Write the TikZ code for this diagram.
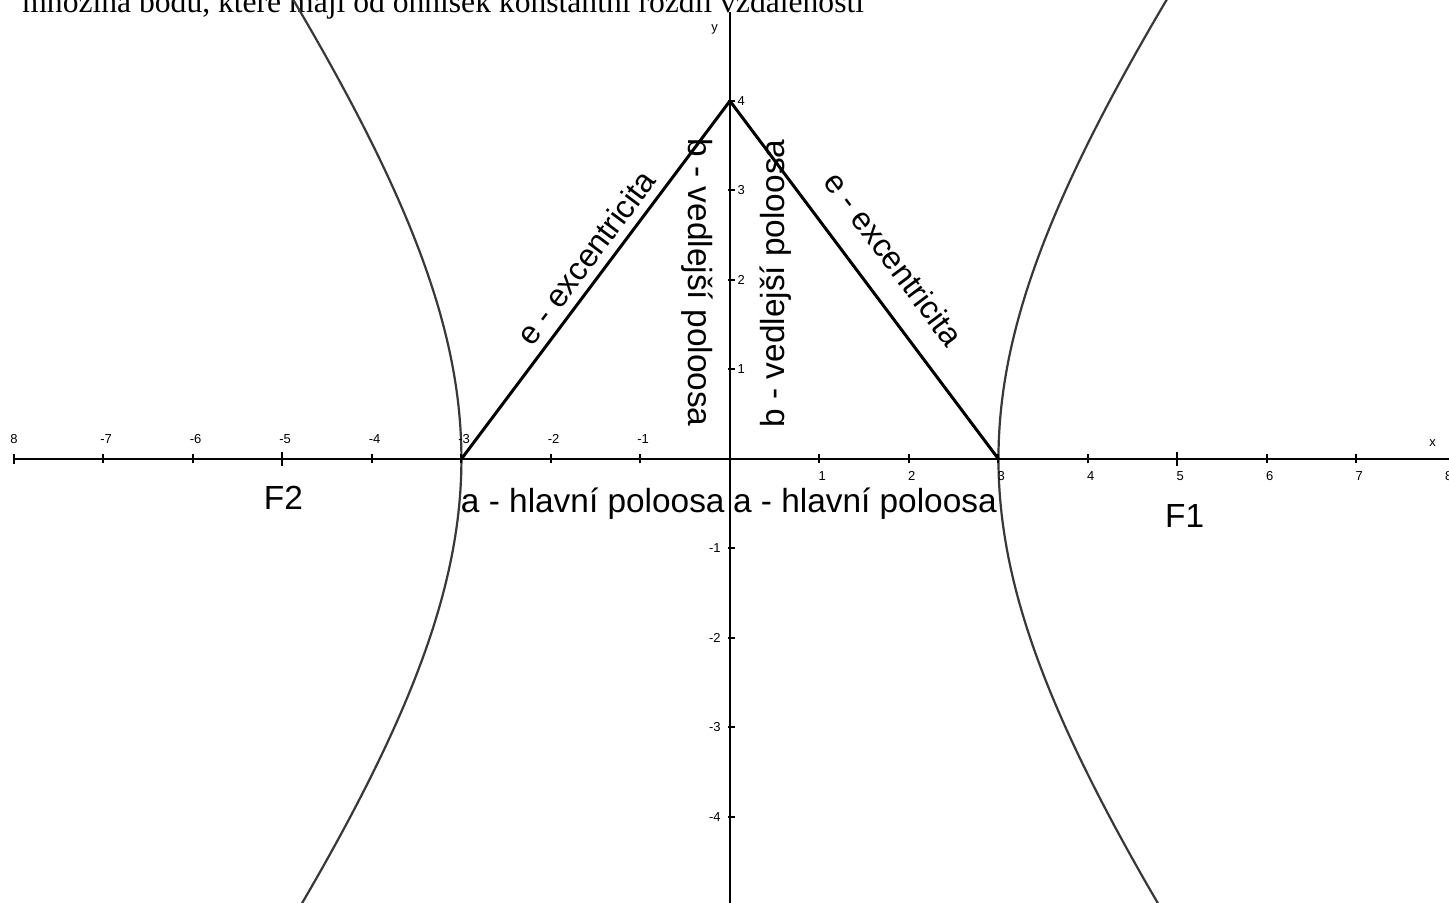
\documentclass[tikz,border=0pt]{standalone}
\usepackage{fontspec}
\setmainfont{Liberation Serif}
\setsansfont{Liberation Sans}
\begin{document}
\begin{tikzpicture}[x=44.75pt,y=44.75pt,
  axis/.style={line width=1.25pt,black},
  tick/.style={line width=1pt,black},
  ticklbl/.style={font=\sffamily\fontsize{6.5pt}{7pt}\selectfont,inner sep=0pt},
  curve/.style={line width=1.1pt,color=black!78},
  seg/.style={line width=1.5pt,black,line join=round},
  biglbl/.style={font=\sffamily\fontsize{16.7pt}{18pt}\selectfont,inner sep=0pt},
  elbl/.style={font=\sffamily\fontsize{16pt}{18pt}\selectfont,inner sep=0pt},
  title/.style={font=\rmfamily\fontsize{15.8pt}{17pt}\selectfont,inner sep=0pt,anchor=base west}]
\useasboundingbox (-8.156,-4.961) rectangle (8.034,5.128);
\clip (-8.156,-4.961) rectangle (8.034,5.128);
\fill[white] (-8.156,-4.961) rectangle (8.034,5.128);
% title (cut off at top)
\node[title] (ttl) at (-7.91,4.985) {množina bodů, které mají od ohnisek konstantní rozdíl vzdáleností};
% hyperbola
\draw[curve] plot[domain=-1.2:1.2,samples=120] ({3*cosh(\x)},{4*sinh(\x)});
\draw[curve] plot[domain=-1.2:1.2,samples=120] ({-3*cosh(\x)},{4*sinh(\x)});
% axes
\coordinate (xl) at (-8,0);
\coordinate (xr) at (8.1,0);
\coordinate (yb) at (0,-5.0);
\coordinate (yt) at (0,4.99);
\draw[axis] (xl) -- (xr);
\draw[axis] (yb) -- (yt);
\draw[tick] (-8,-0.06) -- (-8,0.06);
\foreach \i in {-7,-6,-4,-3,-2,-1,1,2,3,4,6,7}
  \draw[tick] (\i,-0.05) -- (\i,0.05);
\foreach \i in {-5,5}
  \draw[tick] (\i,-0.08) -- (\i,0.08);
\foreach \i in {-4,-3,-2,-1,1,2,3,4}
  \draw[tick] (-0.02,\i) -- (0.06,\i);
% tick labels
\node[ticklbl,anchor=base] (lm8) at (-8.0,0.17) {8};
\foreach \i in {-7,-6,-5,-4,-3,-2,-1}
  \node[ticklbl,anchor=base] (lx\i) at (\i+0.03,0.17) {\i};
\foreach \i in {1,2,3,4,5,6,7}
  \node[ticklbl,anchor=base] (lx\i) at (\i+0.03,-0.24) {\i};
\node[ticklbl,anchor=base] (lp8) at (8.03,-0.24) {8};
\node[ticklbl,anchor=base] (xlab) at (7.85,0.14) {x};
\foreach \i in {1,2,3,4}
  \node[ticklbl,anchor=west] (ly\i) at (0.08,\i) {\i};
\foreach \i in {-1,-2,-3,-4}
  \node[ticklbl,anchor=east] (ly\i) at (-0.1,\i) {\i};
\node[ticklbl,anchor=base] (ylab) at (-0.17,4.78) {y};
% triangle
\coordinate (A) at (-3,0);
\coordinate (B) at (0,4);
\coordinate (C) at (3,0);
\draw[seg] (A) -- (B) -- (C);
% labels
\node[elbl,rotate=53.13] (e1) at (-1.61,2.25) {e - excentricita};
\node[elbl,rotate=-53.13] (e2) at (1.83,2.24) {e - excentricita};
\node[biglbl,rotate=-90] (b1) at (-0.37,1.97) {b - vedlejší poloosa};
\node[biglbl,rotate=90] (b2) at (0.51,1.96) {b - vedlejší poloosa};
\node[biglbl,anchor=base west] (a1) at (-3.01,-0.6) {a - hlavní poloosa};
\node[biglbl,anchor=base west] (a2) at (0.03,-0.6) {a - hlavní poloosa};
\node[biglbl] (F2) at (-4.99,-0.43) {F2};
\node[biglbl] (F1) at (5.08,-0.64) {F1};
\end{tikzpicture}
\end{document}
